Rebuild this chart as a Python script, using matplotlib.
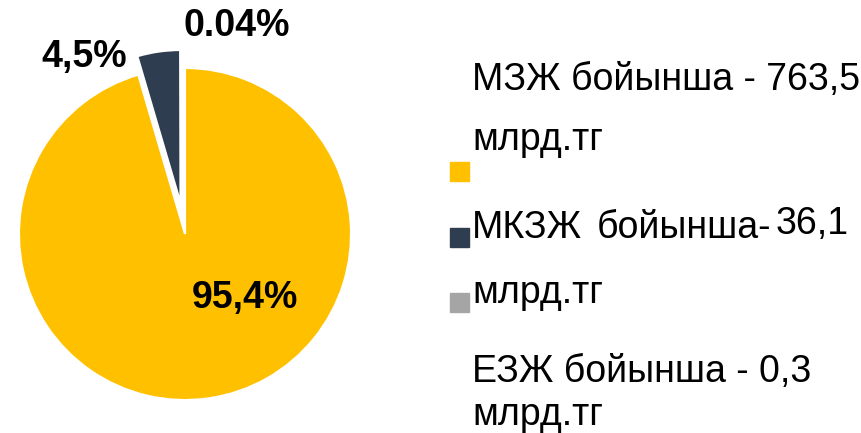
import matplotlib.pyplot as plt
from matplotlib.patches import Rectangle

# data (млрд.тг)
values = [763.5, 36.1, 0.3]
pct_labels = ['95,4%', '4,5%', '0.04%']
colors = ['#FFC000', '#2E3D4F', '#A5A5A5']
legend_lines = ['МЗЖ бойынша - 763,5', 'млрд.тг',
                'МКЗЖ', 'млрд.тг',
                'ЕЗЖ бойынша - 0,3', 'млрд.тг']

plt.rcParams['font.family'] = ['Liberation Sans', 'DejaVu Sans']

W, H = 861, 433
fig = plt.figure(figsize=(W / 100, H / 100), dpi=100)

def fx(px):
    return px / W

def fy(py):
    return 1 - py / H

# pie axes: center (185,234), radius 166 px
cx, cy, r = 185, 234, 166
ax = fig.add_axes([fx(cx - r), fy(cy + r), 2 * r / W, 2 * r / H])
wedges, _ = ax.pie(values, colors=colors, startangle=90, counterclock=False,
                   explode=[0, 0.19, 0],
                   wedgeprops=dict(edgecolor='white', linewidth=1.5))
wedges[1].set_radius(0.92)
ax.set_xlim(-1, 1)
ax.set_ylim(-1, 1)
ax.axis('off')

# percent labels
lab_pos = [(245, 298), (84, 57), (237, 26)]
for (px, py), t in zip(lab_pos, pct_labels):
    fig.text(fx(px), fy(py), t, ha='center', va='center',
             fontsize=27, fontweight='bold', color='black')

# legend, drawn by hand to keep the odd wrapping
line_y = [80, 140, 228, 293, 372, 415]
for y, t in zip(line_y, legend_lines):
    fig.text(fx(472), fy(y), t, ha='left', va='center', fontsize=27)
fig.text(fx(597), fy(228), 'бойынша-', ha='left', va='center', fontsize=27)
fig.text(fx(776), fy(224), '36,1', ha='left', va='center', fontsize=27)

sq_y = [162, 228, 293]
for y, c in zip(sq_y, colors):
    fig.patches.append(Rectangle((fx(450), fy(y + 19)), 19 / W, 19 / H,
                                 transform=fig.transFigure, color=c))

fig.savefig('out.png', dpi=100)
